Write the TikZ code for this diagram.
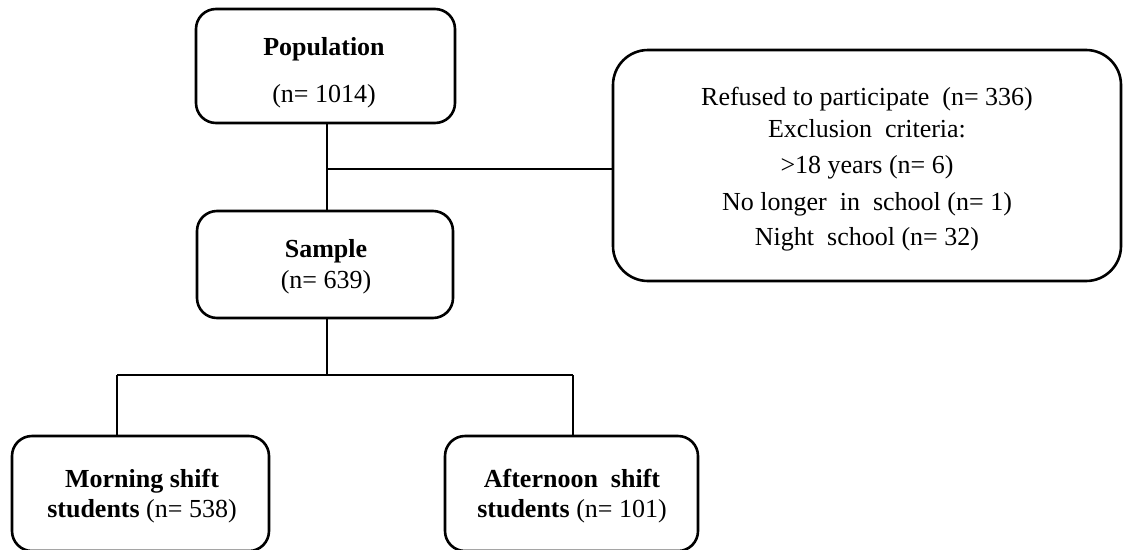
\documentclass[tikz,border=0pt]{standalone}
\usepackage{fontspec}
\setmainfont{Liberation Serif}
\begin{document}
\begin{tikzpicture}[x=1pt,y=-1pt,
  box/.style={draw, line width=2.6pt, rounded corners=20pt, inner sep=0pt, outer sep=0pt},
  txt/.style={font=\fontsize{26}{30}\selectfont, inner sep=0pt, anchor=base},
  link/.style={line width=1.3pt},
  thicklink/.style={line width=2.4pt}]
\useasboundingbox (0,0) rectangle (1123,549);

% boxes
\node[box, minimum width=259pt, minimum height=114pt] (pop) at (325.5,66) {};
\node[box, minimum width=256pt, minimum height=107pt] (sample) at (325,264.5) {};
\node[box, rounded corners=35pt, minimum width=508pt, minimum height=231pt] (refused) at (867,165.5) {};
\node[box, minimum width=257pt, minimum height=115pt] (morning) at (140.5,493.5) {};
\node[box, minimum width=253pt, minimum height=115pt] (after) at (571.5,493.5) {};

% texts
\node[txt] (popA) at (324,55) {\textbf{Population}};
\node[txt] (popB) at (324,102) {(n= 1014)};
\node[txt] (sampA) at (326,257) {\textbf{Sample}};
\node[txt] (sampB) at (326,288) {(n= 639)};
\node[txt] (r1) at (867,105) {Refused\ to participate\ \ (n= 336)};
\node[txt] (r2) at (867,137) {Exclusion\ \ criteria:};
\node[txt] (r3) at (867,173) {>18 years (n= 6)};
\node[txt] (r4) at (867,210) {No longer\ \ in\ \ school (n= 1)};
\node[txt] (r5) at (867,245) {Night\ \ school (n= 32)};
\node[txt] (mA) at (142,487) {\textbf{Morning shift}};
\node[txt] (mB) at (142,517) {\textbf{students} (n= 538)};
\node[txt] (aA) at (572,487) {\textbf{Afternoon\ \ shift}};
\node[txt] (aB) at (572,517) {\textbf{students} (n= 101)};

% connectors
\coordinate (j1) at (327,169);
\coordinate (j2) at (327,375);
\coordinate (mL) at (117,375);
\coordinate (mR) at (573,375);
\draw[link] (pop.south -| j1) -- (sample.north -| j1);
\draw[thicklink] (j1) -- (j1 -| refused.west);
\draw[link] (sample.south -| j2) -- (j2);
\draw[link] (mL) -- (mR);
\draw[link] (mL) -- (mL |- morning.north);
\draw[link] (mR) -- (mR |- after.north);
\end{tikzpicture}
\end{document}
